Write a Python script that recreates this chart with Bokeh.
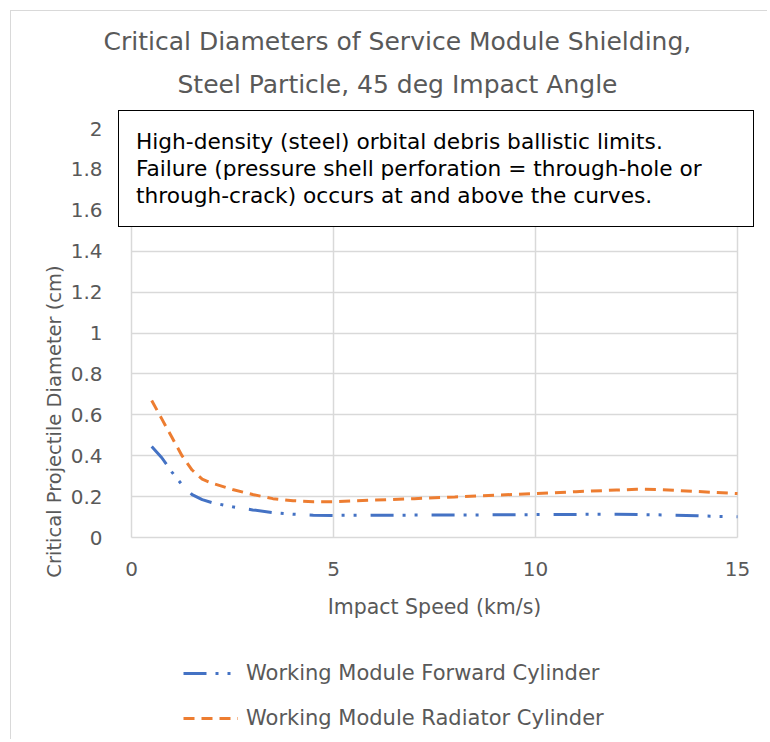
from bokeh.plotting import figure
from bokeh.models import Legend, LegendItem, FixedTicker, Range1d, Title
from bokeh.embed import file_html
from bokeh.resources import INLINE

speed_fwd = [0.5, 0.75, 1.0, 1.25, 1.5, 1.75, 2.0, 2.5, 3.0, 3.5, 4.0, 4.5, 5.0, 6.0, 8.0, 10.0, 12.0, 13.0, 14.0, 15.0]
diam_fwd = [0.445, 0.39, 0.32, 0.258, 0.21, 0.185, 0.17, 0.15, 0.135, 0.122, 0.114, 0.109, 0.108, 0.109, 0.110, 0.112, 0.114, 0.111, 0.106, 0.101]

speed_rad = [0.5, 0.75, 1.0, 1.25, 1.5, 1.75, 2.0, 2.5, 3.0, 3.5, 4.0, 4.5, 5.0, 6.0, 7.0, 8.0, 9.0, 10.0, 11.0, 12.0, 12.5, 13.0, 14.0, 15.0]
diam_rad = [0.67, 0.58, 0.49, 0.40, 0.33, 0.285, 0.265, 0.235, 0.21, 0.19, 0.18, 0.175, 0.175, 0.183, 0.19, 0.198, 0.207, 0.215, 0.224, 0.232, 0.236, 0.235, 0.225, 0.215]

x_ticks = [0, 5, 10, 15]
y_ticks = [0, 0.2, 0.4, 0.6, 0.8, 1.0, 1.2, 1.4, 1.6, 1.8, 2.0]
x_min, x_max = 0, 15
y_min, y_max = 0, 2

title_lines = ["Critical Diameters of Service Module Shielding,", "Steel Particle, 45 deg Impact Angle"]
note_lines = ["High-density (steel) orbital debris ballistic limits.",
              "Failure (pressure shell perforation = through-hole or",
              "through-crack) occurs at and above the curves."]
name_fwd = "Working Module Forward Cylinder"
name_rad = "Working Module Radiator Cylinder"

FONT = "DejaVu Sans"
GRAY = "#595959"

# pixel layout (canvas coordinates)
W, H = 757, 729
plot_left, plot_right, plot_top, plot_bottom = 120, 726, 117, 526   # where x 0..15 / y 0..2 fall
frame_left, frame_right, frame_top, frame_bottom = 105, 743, 99, 721  # frame also holds note box and legend
xs = (plot_right - plot_left) / (x_max - x_min)
ys = (plot_bottom - plot_top) / (y_max - y_min)

p = figure(width=W, height=H, output_backend="svg", toolbar_location=None,
           x_range=Range1d(x_min - (plot_left - frame_left) / xs, x_max + (frame_right - plot_right) / xs),
           y_range=Range1d(y_min - (frame_bottom - plot_bottom) / ys, y_max + (plot_top - frame_top) / ys),
           min_border_left=frame_left, min_border_right=W - frame_right,
           min_border_top=frame_top, min_border_bottom=H - frame_bottom)
p.margin = (10, 0, 0, 10)
p.styles = {"border-top": "1px solid #d9d9d9", "border-left": "1px solid #d9d9d9"}
p.outline_line_color = None

p.title.text = title_lines[0]
p.title.align = "left"
p.title.offset = -13
p.title.standoff = 0
p.add_layout(Title(text=title_lines[1], align="left", offset=61, standoff=24), "above")
for t in [p.title] + [m for m in p.above if isinstance(m, Title)]:
    t.text_font = FONT
    t.text_font_size = "25px"
    t.text_font_style = "normal"
    t.text_color = GRAY

for ax in (p.xaxis[0], p.yaxis[0]):
    ax.axis_line_color = None
    ax.major_tick_line_color = None
    ax.minor_tick_line_color = None
    ax.major_label_text_font = FONT
    ax.major_label_text_font_size = "20px"
    ax.major_label_text_color = GRAY
    ax.axis_label_text_font = FONT
    ax.axis_label_text_color = GRAY
    ax.axis_label_text_font_style = "normal"

p.xaxis.ticker = FixedTicker(ticks=x_ticks)
p.yaxis.ticker = FixedTicker(ticks=y_ticks)
p.xaxis.bounds = (x_min, x_max)
p.yaxis.bounds = (y_min, y_max)
p.xaxis.fixed_location = y_min
p.yaxis.major_label_overrides = {0: "0", 1.0: "1", 2.0: "2"}
p.xaxis.axis_label = "Impact Speed (km/s)"
p.yaxis.axis_label = "Critical Projectile Diameter (cm)"
p.xaxis.axis_label_text_font_size = "20.5px"
p.yaxis.axis_label_text_font_size = "19.5px"
p.xaxis.major_label_standoff = 18
p.yaxis.major_label_standoff = 8
p.xaxis.axis_label_standoff = 16
p.yaxis.axis_label_standoff = 2
p.xgrid.grid_line_color = "#d9d9d9"
p.ygrid.grid_line_color = "#d9d9d9"
p.xgrid.grid_line_width = 1.5
p.ygrid.grid_line_width = 1.5
p.xgrid.cross_bounds = (y_min, y_max)
p.ygrid.cross_bounds = (x_min, x_max)

r1 = p.line(speed_fwd, diam_fwd, line_color="#4472C4", line_width=3, line_dash="23 9 3 9 3 14")
r2 = p.line(speed_rad, diam_rad, line_color="#ED7D31", line_width=3, line_dash="11 7")

series_legend = Legend(items=[LegendItem(label=name_fwd, renderers=[r1]),
                              LegendItem(label=name_rad, renderers=[r2])],
                       location=(67, 2), orientation="vertical",
                       glyph_width=55, glyph_height=20, label_height=20, label_standoff=8, spacing=21,
                       padding=0, margin=0,
                       label_text_font=FONT, label_text_font_size="21px", label_text_color=GRAY,
                       border_line_color=None, background_fill_alpha=0)
p.add_layout(series_legend, "center")

# the note box (a legend made of text-only entries)
note_legend = Legend(items=[LegendItem(label=t, renderers=[]) for t in note_lines],
                     location=(2, 505), orientation="vertical",
                     glyph_width=0, glyph_height=27, label_height=27, label_width=600,
                     label_standoff=0, spacing=0, padding=17, margin=0,
                     label_text_font=FONT, label_text_font_size="21.7px", label_text_color="black",
                     border_line_color="black", border_line_width=1.5, border_line_alpha=1,
                     background_fill_color="white", background_fill_alpha=1)
p.add_layout(note_legend, "center")

open("out.html", "w").write(file_html(p, INLINE))
